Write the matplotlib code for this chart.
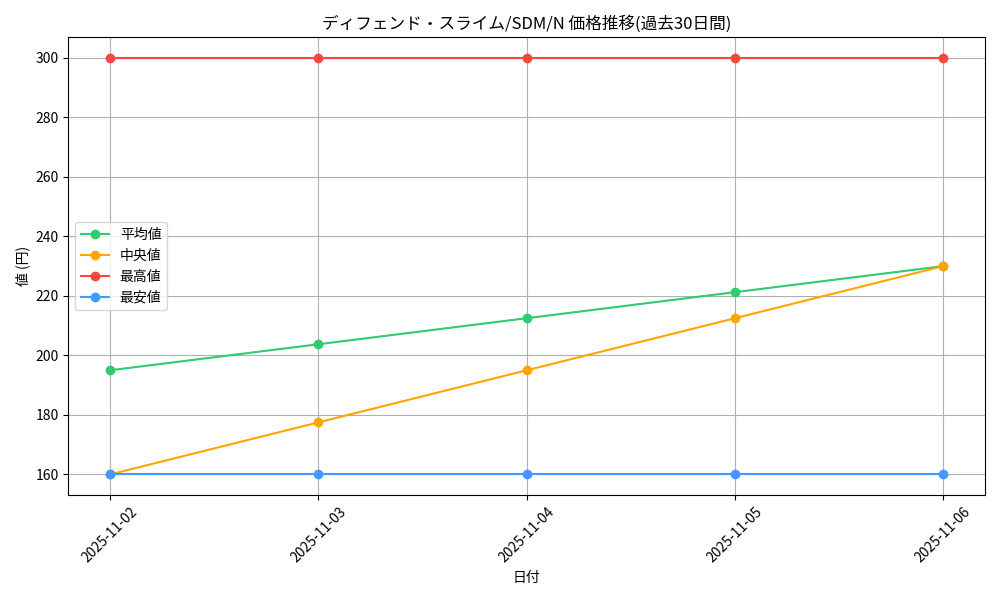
import matplotlib
matplotlib.use('Agg')
import matplotlib.pyplot as plt

plt.rcParams['font.family'] = ['Noto Sans CJK JP', 'DejaVu Sans']

dates = ['2025-11-02', '2025-11-03', '2025-11-04', '2025-11-05', '2025-11-06']
avg_price = [195, 203.75, 212.5, 221.25, 230]
median_price = [160, 177.5, 195, 212.5, 230]
max_price = [300, 300, 300, 300, 300]
min_price = [160, 160, 160, 160, 160]

fig, ax = plt.subplots(figsize=(10, 6), dpi=100)
x = range(len(dates))
ax.plot(x, avg_price, marker='o', color='#2ecc71', label='平均値')
ax.plot(x, median_price, marker='o', color='#ffa500', label='中央値')
ax.plot(x, max_price, marker='o', color='#ff4444', label='最高値')
ax.plot(x, min_price, marker='o', color='#4499ff', label='最安値')

ax.set_xticks(list(x))
ax.set_xticklabels(dates, rotation=45)
ax.set_title('ディフェンド・スライム/SDM/N 価格推移(過去30日間)')
ax.set_xlabel('日付')
ax.set_ylabel('値 (円)')
ax.grid(True)
ax.legend(loc='center left')

plt.tight_layout()
plt.savefig('out.png')
